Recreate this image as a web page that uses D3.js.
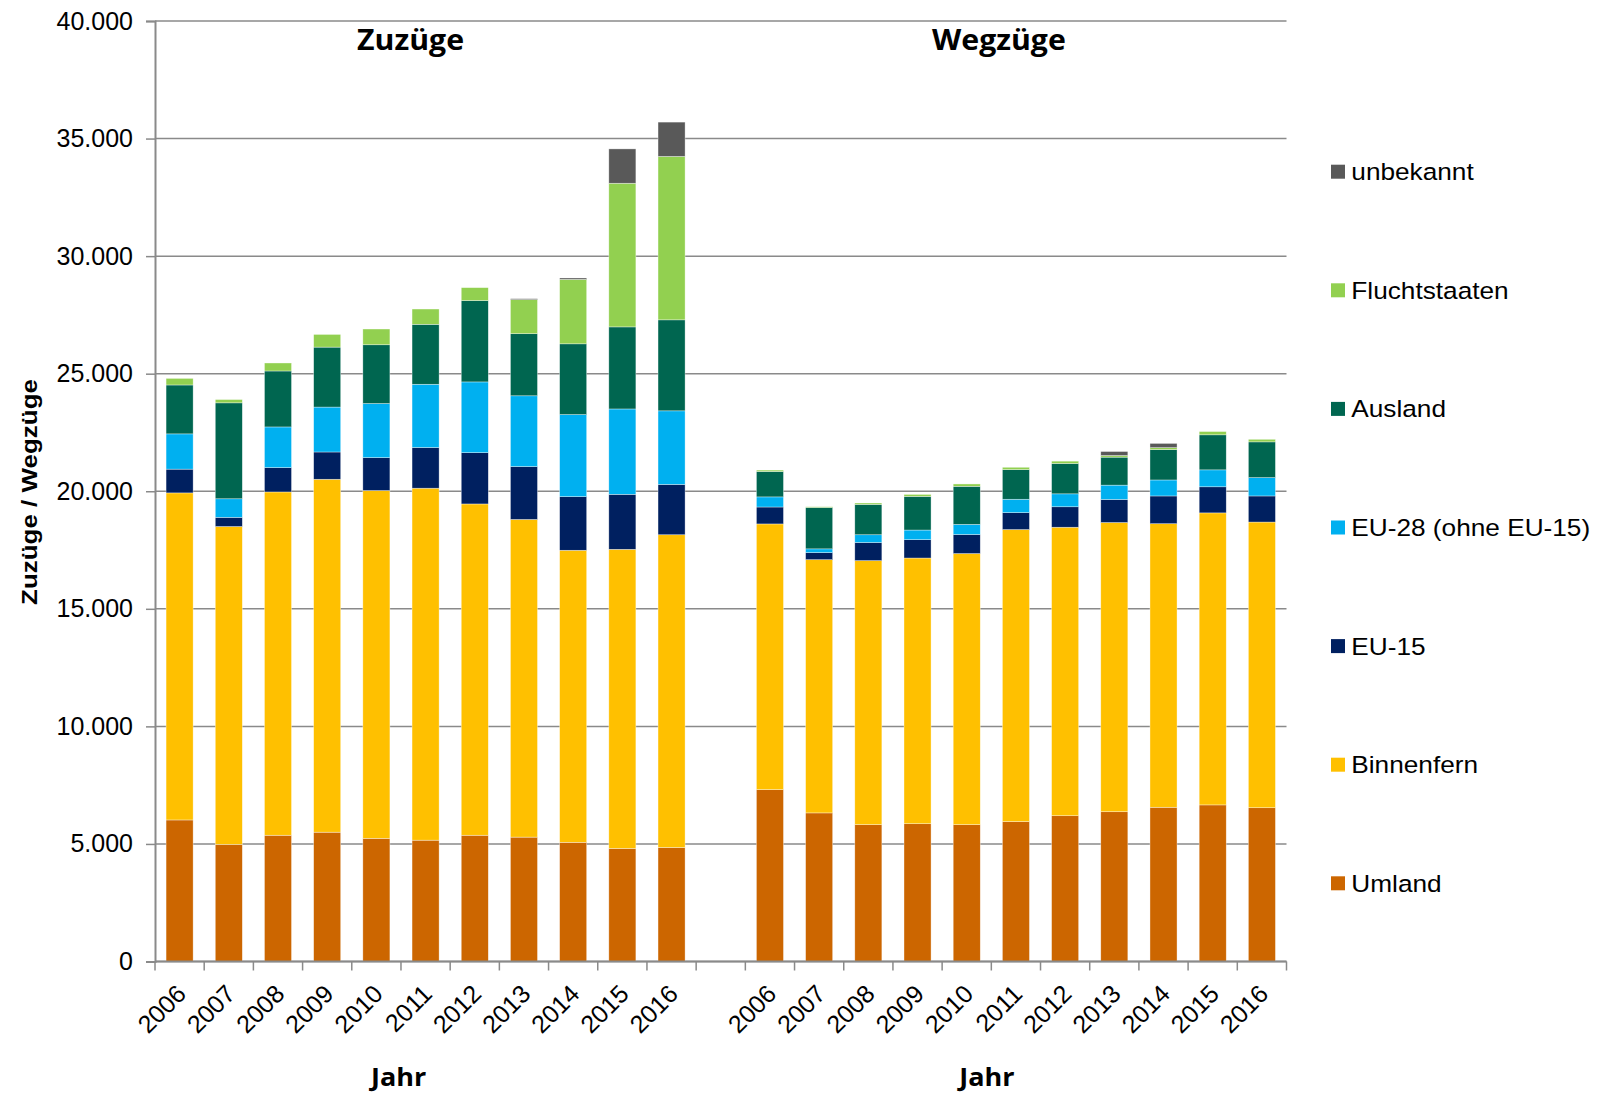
<!DOCTYPE html>
<html>
<head>
<meta charset="utf-8">
<script src="https://cdn.jsdelivr.net/npm/d3@7"></script>
<style>
  body { margin: 0; background: #fff; }
  text { font-family: "Liberation Sans", Arial, sans-serif; fill: #000; }
  .head { font-family: "Open Sans", sans-serif; font-weight: 700; }
</style>
</head>
<body>
<div id="chart"></div>
<script>
// Data
var years = ["2006", "2007", "2008", "2009", "2010", "2011", "2012", "2013", "2014", "2015", "2016"];
var seriesNames = ["Umland", "Binnenfern", "EU-15", "EU-28 (ohne EU-15)", "Ausland", "Fluchtstaaten", "unbekannt"];
var seriesColors = ["#CC6600", "#FFC000", "#002060", "#00B0F0", "#006650", "#92D050", "#595959"];
var yTicks = [0, 5000, 10000, 15000, 20000, 25000, 30000, 35000, 40000];

// Zuzüge
var zuUmland     = [6020, 4980, 5370, 5500, 5240, 5160, 5370, 5290, 5070, 4810, 4850];
var zuBinnenfern = [13910, 13520, 14600, 15010, 14790, 14970, 14090, 13510, 12420, 12720, 13300];
var zuEU15       = [1010, 390, 1035, 1160, 1400, 1730, 2180, 2250, 2280, 2340, 2140];
var zuEU28       = [1500, 790, 1730, 1910, 2300, 2690, 3010, 3010, 3490, 3630, 3130];
var zuAusland    = [2080, 4080, 2380, 2550, 2500, 2550, 3460, 2640, 3010, 3490, 3870];
var zuFlucht     = [280, 140, 340, 540, 670, 650, 550, 1450, 2740, 6110, 6950];
var zuUnbekannt  = [0, 0, 0, 0, 0, 0, 0, 40, 60, 1460, 1460];

// Wegzüge
var weUmland     = [7310, 6320, 5820, 5860, 5820, 5950, 6200, 6370, 6560, 6660, 6540];
var weBinnenfern = [11300, 10770, 11230, 11300, 11530, 12420, 12270, 12300, 12060, 12420, 12150];
var weEU15       = [720, 300, 770, 780, 810, 720, 870, 980, 1180, 1110, 1110];
var weEU28       = [430, 160, 330, 410, 430, 570, 550, 610, 680, 720, 780];
var weAusland    = [1080, 1760, 1290, 1430, 1620, 1260, 1290, 1190, 1290, 1490, 1520];
var weFlucht     = [60, 30, 60, 85, 100, 100, 100, 70, 85, 140, 110];
var weUnbekannt  = [0, 0, 0, 0, 0, 0, 0, 170, 180, 0, 0];

var zuSeries = [zuUmland, zuBinnenfern, zuEU15, zuEU28, zuAusland, zuFlucht, zuUnbekannt];
var weSeries = [weUmland, weBinnenfern, weEU15, weEU28, weAusland, weFlucht, weUnbekannt];

var deLocale = d3.formatLocale({ decimal: ",", thousands: ".", grouping: [3], currency: ["", " €"] });
var fmt = deLocale.format(",");

// Build the category table: 11 Zuzüge years, an empty slot, 11 Wegzüge years
var rows = [];
years.forEach(function(y, i) {
  var r = { key: "Z" + y, label: y };
  seriesNames.forEach(function(s, j) { r[s] = zuSeries[j][i]; });
  rows.push(r);
});
var gapRow = { key: "gap", label: "" };
seriesNames.forEach(function(s) { gapRow[s] = 0; });
rows.push(gapRow);
years.forEach(function(y, i) {
  var r = { key: "W" + y, label: y };
  seriesNames.forEach(function(s, j) { r[s] = weSeries[j][i]; });
  rows.push(r);
});

var width = 1601, height = 1093;
var margins = { top: 21, right: 314.5, bottom: 131.5, left: 155 };
var chartWidth = width - margins.left - margins.right;
var chartHeight = height - margins.top - margins.bottom;

var svg = d3.select("#chart").append("svg")
  .attr("width", width)
  .attr("height", height);

var chartElement = svg.append("g")
  .attr("transform", "translate(" + margins.left + "," + margins.top + ")");

var xScale = d3.scaleBand()
  .domain(rows.map(d => d.key))
  .range([0, chartWidth])
  .paddingInner(0.45)
  .paddingOuter(0.225);

var yScale = d3.scaleLinear()
  .domain([0, 40000])
  .range([chartHeight, 0]);

var gridColor = "#8a8a8a";

// Grid
chartElement.append("g")
  .attr("class", "grid")
  .selectAll("line")
  .data(yTicks)
  .enter()
  .append("line")
  .attr("x1", 0)
  .attr("x2", chartWidth)
  .attr("y1", d => yScale(d))
  .attr("y2", d => yScale(d))
  .attr("stroke", gridColor)
  .attr("stroke-width", 1.5);

// Bars
var stacked = d3.stack().keys(seriesNames)(rows);
chartElement.append("g")
  .attr("class", "bars")
  .selectAll("g")
  .data(stacked)
  .enter()
  .append("g")
  .attr("fill", (d, i) => seriesColors[i])
  .selectAll("rect")
  .data(d => d.filter(p => p[1] - p[0] > 0))
  .enter()
  .append("rect")
  .attr("x", d => xScale(d.data.key))
  .attr("width", xScale.bandwidth())
  .attr("y", d => yScale(d[1]))
  .attr("height", d => yScale(d[0]) - yScale(d[1]))
  .attr("stroke", "#ffffff")
  .attr("stroke-width", 0.6)
  .attr("stroke-opacity", 0.6);

// Y axis
var yAxis = d3.axisLeft(yScale)
  .tickValues(yTicks)
  .tickSize(9)
  .tickPadding(13)
  .tickFormat(d => fmt(d));

var yAxisG = chartElement.append("g")
  .attr("class", "y axis")
  .call(yAxis);
yAxisG.select(".domain").attr("stroke", gridColor).attr("stroke-width", 2);
yAxisG.selectAll(".tick line").attr("stroke", gridColor).attr("stroke-width", 1.5);
yAxisG.selectAll(".tick text")
  .attr("font-size", 25)
  .attr("fill", "#000")
  .attr("font-family", "Liberation Sans, Arial, sans-serif");

// X axis: ticks sit on category boundaries
var step = xScale.step();
var boundaries = d3.range(rows.length + 1);
var xAxisG = chartElement.append("g")
  .attr("class", "x axis")
  .attr("transform", "translate(0," + chartHeight + ")");
xAxisG.append("line")
  .attr("x1", 0)
  .attr("x2", chartWidth)
  .attr("stroke", gridColor)
  .attr("stroke-width", 2);
xAxisG.selectAll(".tk")
  .data(boundaries)
  .enter()
  .append("line")
  .attr("class", "tk")
  .attr("x1", d => d * step)
  .attr("x2", d => d * step)
  .attr("y1", 0)
  .attr("y2", 9)
  .attr("stroke", gridColor)
  .attr("stroke-width", 1.5);

xAxisG.selectAll(".yl")
  .data(rows.filter(d => d.label))
  .enter()
  .append("text")
  .attr("class", "yl")
  .attr("text-anchor", "end")
  .attr("font-size", 25)
  .attr("transform", d => "translate(" + (xScale(d.key) + xScale.bandwidth() / 2 + 8) + ",34) rotate(-45)")
  .text(d => d.label);

// Section titles and axis titles
var zuCenter = (xScale("Z2006") + xScale("Z2016") + xScale.bandwidth()) / 2;
var weCenter = (xScale("W2006") + xScale("W2016") + xScale.bandwidth()) / 2;

[["Zuzüge", zuCenter - 15], ["Wegzüge", weCenter - 17]].forEach(function(t) {
  chartElement.append("text")
    .attr("class", "head")
    .attr("text-anchor", "middle")
    .attr("font-size", 28)
    .attr("transform", "translate(" + t[1] + "," + 29 + ") scale(1.08,1)")
    .text(t[0]);
});

[zuCenter - 27, weCenter - 29].forEach(function(cx) {
  chartElement.append("text")
    .attr("class", "head")
    .attr("text-anchor", "middle")
    .attr("font-size", 25)
    .attr("transform", "translate(" + cx + "," + (chartHeight + 124) + ") scale(1.08,1)")
    .text("Jahr");
});

svg.append("text")
  .attr("text-anchor", "middle")
  .attr("font-weight", 700)
  .attr("font-size", 22)
  .attr("transform", "translate(37," + 492 + ") rotate(-90) scale(1.18,1)")
  .text("Zuzüge / Wegzüge");

// Legend (top series first)
var legendX = 1331, legendTop = 171.7, legendStep = 118.6;
var legendItems = seriesNames.map((s, i) => ({ name: s, color: seriesColors[i] })).reverse();
var legend = svg.append("g")
  .attr("class", "legend")
  .selectAll("g")
  .data(legendItems)
  .enter()
  .append("g")
  .attr("transform", (d, i) => "translate(" + legendX + "," + (legendTop + i * legendStep) + ")");
legend.append("rect")
  .attr("x", 0)
  .attr("y", -7)
  .attr("width", 14)
  .attr("height", 14)
  .attr("fill", d => d.color);
legend.append("text")
  .attr("x", 19)
  .attr("y", 8.5)
  .attr("font-size", 24.5)
  .attr("transform", "scale(1.07,1)")
  .text(d => d.name);
</script>
</body>
</html>
